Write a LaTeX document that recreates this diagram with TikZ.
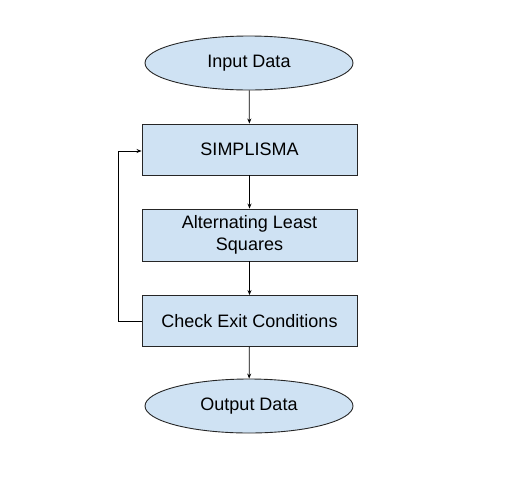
\documentclass[tikz,border=0pt]{standalone}
\usepackage{fontspec}
\setmainfont{Liberation Sans}
\usetikzlibrary{shapes.geometric,arrows.meta}
\definecolor{boxfill}{HTML}{CFE2F3}
\begin{document}
\begin{tikzpicture}[x=1pt,y=-1pt,
  every node/.style={font=\fontsize{18}{21.5}\selectfont, text=black},
  procbox/.style={draw=black!85, fill=boxfill, line width=0.9pt, rectangle, minimum width=215pt, minimum height=51pt, inner sep=0pt, align=center},
  termnode/.style={draw=black!85, fill=boxfill, line width=0.9pt, ellipse, minimum width=208pt, minimum height=54pt, inner sep=0pt},
  conn/.style={draw=black, line width=0.8pt, -{Stealth[length=5pt,width=4pt]}}]
\useasboundingbox (0,0) rectangle (527,496);
\node[termnode] (in) at (249,63) {Input Data};
\node[procbox] (simp) at (249.5,149.5) {SIMPLISMA};
\node[procbox, minimum height=52pt] (als) at (249.5,235) {Alternating Least\\Squares};
\node[procbox] (chk) at (249.5,321) {Check Exit Conditions};
\node[termnode] (out) at (249,406) {Output Data};
\coordinate (lb) at (118,321);
\coordinate (lt) at (118,151);
\draw[conn] (in) -- (simp);
\draw[conn] (simp) -- (als);
\draw[conn] (als) -- (chk);
\draw[conn] (chk) -- (out);
\draw[conn] (chk.west) -- (lb) -- (lt) -- (simp.west |- lt);
\end{tikzpicture}
\end{document}
